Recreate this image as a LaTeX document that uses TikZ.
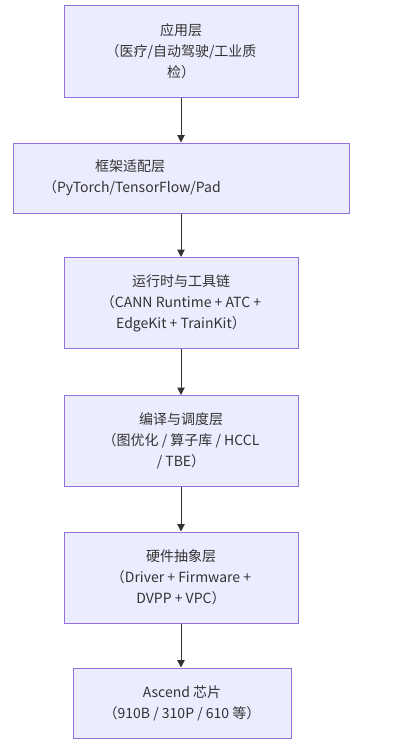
\documentclass[tikz,border=0pt]{standalone}
\usepackage{fontspec}
\setmainfont{Noto Sans CJK SC}
\usetikzlibrary{positioning, arrows.meta}
\definecolor{layerfill}{HTML}{ECECFF}
\definecolor{layerline}{HTML}{9370DB}
\definecolor{edgegray}{HTML}{333333}

\begin{document}
\begin{tikzpicture}[x=0.75pt, y=-0.75pt,
    layer/.style={rectangle, draw=layerline, fill=layerfill, line width=0.75pt, minimum width=175.5pt, minimum height=68.25pt, align=center, text=edgegray, inner sep=0pt, font=\fontsize{10.5}{15.75}\selectfont},
    flow/.style={-{Triangle[length=5.5pt, width=5.5pt]}, draw=edgegray, line width=0.75pt}
]
\useasboundingbox (0,0) rectangle (402,749);

% Livelli
\node[layer] (app) at (181,51.5) {应用层\\（医疗/自动驾驶/工业质\\检）};
\node[layer, minimum width=252pt, minimum height=52.5pt, text width=252pt, align=left] (frame) at (181,178) {\hspace*{61.5pt}框架适配层\\\hspace*{22.5pt}（PyTorch/TensorFlow/Pad};
\node[layer] (runtime) at (181,303) {运行时与工具链\\（CANN Runtime + ATC +\\EdgeKit + TrainKit）};
\node[layer] (compile) at (181,441) {编译与调度层\\（图优化 / 算子库 / HCCL\\/ TBE）};
\node[layer] (hal) at (181,577.5) {硬件抽象层\\（Driver + Firmware +\\DVPP + VPC）};
\node[layer, minimum width=163.5pt, minimum height=52.5pt] (chip) at (182,703) {Ascend 芯片\\（910B / 310P / 610 等）};

% Frecce
\draw[flow] (app) -- (frame);
\draw[flow] (frame) -- (runtime);
\draw[flow] (runtime) -- (compile);
\draw[flow] (compile) -- (hal);
\draw[flow] (hal) -- (chip.north -| hal.south);

\end{tikzpicture}
\end{document}
